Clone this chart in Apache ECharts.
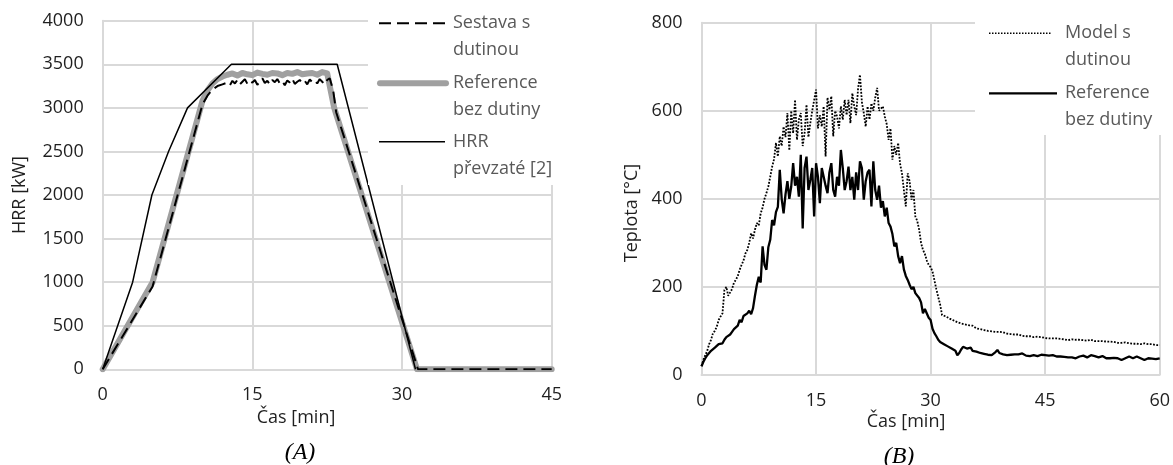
<!DOCTYPE html>
<html>
<head>
<meta charset="utf-8">
<script src="https://cdn.jsdelivr.net/npm/echarts@6/dist/echarts.min.js"></script>
<style>
  html, body { margin: 0; padding: 0; background: #ffffff; }
  #chart { width: 1173px; height: 465px; }
</style>
</head>
<body>
<div id="chart"></div>
<script>
// ---------- Chart (A): HRR ----------
const ticksA_x = [0, 15, 30, 45];
const ticksA_y = [0, 500, 1000, 1500, 2000, 2500, 3000, 3500, 4000];

// HRR převzaté [2]
const timeA_taken = [0, 3, 4.93, 6.6, 8.5, 12.9, 23.5, 31.35];
const hrrTaken    = [0, 1000, 2000, 2500, 3000, 3500, 3500, 0];

// Reference bez dutiny
const timeA_ref = [0, 5, 10, 10.5, 11, 11.5, 12,
  12.5, 13, 13.5, 14, 14.5, 15, 15.5, 16, 16.5, 17, 17.5, 18, 18.5, 19, 19.5, 20, 20.5, 21, 21.5, 22, 22.5,
  23.2, 31.5, 45];
const hrrRefNoCavity = [0, 1000, 3080, 3200, 3280, 3330, 3360,
  3380, 3395, 3370, 3400, 3385, 3375, 3405, 3390, 3380, 3400, 3395, 3375, 3400, 3390, 3410, 3385, 3395, 3400, 3380, 3410, 3395,
  3000, 0, 0];

// Sestava s dutinou
const timeA_cav = [0, 5, 10, 10.5, 11, 11.5, 12,
  12.5, 12.75, 13, 13.25, 13.5, 13.75, 14, 14.25, 14.5, 14.75, 15, 15.25, 15.5, 15.75, 16, 16.25, 16.5, 16.75,
  17, 17.25, 17.5, 17.75, 18, 18.25, 18.5, 18.75, 19, 19.25, 19.5, 19.75, 20, 20.25, 20.5, 20.75, 21, 21.25,
  21.5, 21.75, 22, 22.25, 22.5, 22.75,
  23.1, 23.4, 31.6, 45];
const hrrCavity = [0, 950, 3040, 3140, 3210, 3250, 3270,
  3290, 3260, 3310, 3280, 3320, 3270, 3300, 3330, 3275, 3310, 3290, 3320, 3265, 3300, 3340, 3285, 3310, 3270,
  3320, 3295, 3330, 3280, 3305, 3260, 3315, 3290, 3335, 3275, 3300, 3320, 3285, 3310, 3270, 3325, 3295, 3315,
  3280, 3330, 3300, 3270, 3320, 3340,
  3200, 2950, 0, 0];

// ---------- Chart (B): Teplota ----------
const ticksB_x = [0, 15, 30, 45, 60];
const ticksB_y = [0, 200, 400, 600, 800];
const stepB = 0.25; // minutes between samples

const modelCavity = [
  20,35,45,55, 70,80,95,100,
  110,125,133,140, 193,200,180,178,
  195,210,216,225, 239,250,260,276,
  284,300,322,310, 330,345,340,367,
  380,400,413,428, 450,473,490,527,
  496,542,520,564, 540,595,510,600,
  549,625,534,580, 595,520,549,614,
  540,572,600,602, 648,560,590,564,
  610,496,630,602, 633,542,600,587,
  560,610,580,625, 590,625,572,640,
  610,590,650,682, 620,595,564,610,
  580,617,600,630, 652,600,602,610,
  587,570,534,560, 489,520,500,527,
  480,458,420,383, 458,440,398,420,
  360,350,330,300, 284,275,260,250,
  245,235,215,195, 177,160,136,134,
  133,130,128,125, 124,122,120,118,
  117,118,115,114, 113,110,112,108,
  106,107,104,103, 102,104,100,101,
  99,100,98,99, 98,96,97,95,
  94,95,93,92, 92,91,92,90,
  89,90,88,87, 88,87,86,87,
  87,85,86,84, 84,85,83,84,
  83,82,83,81, 82,80,81,80,
  79,80,81,80, 80,79,80,78,
  79,80,78,79, 80,78,77,78,
  77,76,77,75, 76,75,76,74,
  75,74,73,75, 73,72,74,72,
  72,73,71,72, 71,72,70,71,
  72,71,70,69, 70,69,68,69,
  68
];

const refNoCavity = [
  20,30,38,45, 50,55,58,62,
  66,70,74,72, 80,86,84,92,
  98,104,100,112, 125,120,134,130,
  140,146,138,152, 180,205,223,210,
  292,250,239,290, 307,352,340,370,
  382,466,400,367, 410,440,400,428,
  481,430,450,405, 500,333,470,496,
  420,443,470,360, 481,450,390,470,
  473,430,413,460, 481,420,405,450,
  430,511,470,420, 440,473,420,450,
  398,460,420,485, 470,398,440,460,
  466,383,485,420, 398,430,380,395,
  360,380,345,337, 320,292,300,270,
  254,270,240,225, 216,205,195,200,
  186,190,175,165, 140,150,148,130,
  125,105,95,88, 80,75,72,70,
  68,65,62,60, 61,55,45,50,
  58,64,62,60, 58,62,55,54,
  53,55,50,52, 48,50,46,47,
  45,48,52,57, 50,48,47,43,
  45,48,46,44, 47,49,47,44,
  49,46,44,45, 43,46,45,42,
  43,45,46,44, 45,47,44,42,
  45,43,42,44, 42,40,41,43,
  40,38,40,42, 38,40,42,45,
  44,42,40,43, 45,46,43,42,
  40,41,43,40, 38,40,38,37,
  39,41,38,36, 34,36,38,41,
  42,40,38,36, 42,40,38,37,
  34,36,38,36, 37,39,36,38,
  38
];

// ---------- helpers ----------
const zip = (ts, vs) => ts.map((t, i) => [t, vs[i]]);
const seqB = vs => vs.map((v, i) => [i * stepB, v]);

const FONT = '"Open Sans", "Noto Sans", sans-serif';
const GRID_C = '#d9d9d9';
const LABEL_C = '#1f1f1f';
const LEG_C = '#595959';

function valueAxis(gridIndex, ticks, margin) {
  const step = ticks[1] - ticks[0];
  return {
    type: 'value',
    gridIndex: gridIndex,
    min: ticks[0],
    max: ticks[ticks.length - 1],
    interval: step,
    axisLine: { show: true, lineStyle: { color: GRID_C, width: 2 } },
    axisTick: { show: false },
    splitLine: { show: true, lineStyle: { color: GRID_C, width: 2 } },
    axisLabel: { color: LABEL_C, fontSize: 18, fontFamily: FONT, margin: margin,
                 formatter: v => String(v) }
  };
}

const chart = echarts.init(document.getElementById('chart'), null, { renderer: 'canvas' });

const legendText = (x, y, text) => ({
  type: 'text', x: x, y: y, z: 20,
  style: { text: text, fill: LEG_C, fontSize: 18, fontFamily: FONT, lineHeight: 27,
           align: 'left', verticalAlign: 'top' }
});
const legendLine = (x1, x2, y, style) => ({
  type: 'line', z: 20,
  shape: { x1: x1, y1: y, x2: x2, y2: y },
  style: style
});
const title = (x, y, text, rot) => ({
  type: 'text', x: x, y: y, z: 20, rotation: rot || 0,
  style: { text: text, fill: LABEL_C, fontSize: 18, fontFamily: FONT, align: 'center', verticalAlign: 'middle' }
});
const caption = (x, y, text) => ({
  type: 'text', x: x, y: y, z: 20,
  style: { text: text, fill: '#000', fontSize: 24, fontStyle: 'italic',
           fontFamily: '"Liberation Serif", "DejaVu Serif", serif', align: 'center', verticalAlign: 'middle' }
});

chart.setOption({
  animation: false,
  backgroundColor: '#ffffff',
  grid: [
    { left: 102.7, top: 20.7, width: 449, height: 348.6, containLabel: false },
    { left: 701.5, top: 22.7, width: 458.8, height: 352.3, containLabel: false }
  ],
  xAxis: [ valueAxis(0, ticksA_x, 17), valueAxis(1, ticksB_x, 17) ],
  yAxis: [ valueAxis(0, ticksA_y, 19), valueAxis(1, ticksB_y, 19) ],
  series: [
    {
      name: 'Reference bez dutiny', type: 'line', xAxisIndex: 0, yAxisIndex: 0,
      data: zip(timeA_ref, hrrRefNoCavity), showSymbol: false, symbol: 'none',
      lineStyle: { color: '#a0a0a0', width: 6, cap: 'round', join: 'round' }, z: 2
    },
    {
      name: 'Sestava s dutinou', type: 'line', xAxisIndex: 0, yAxisIndex: 0,
      data: zip(timeA_cav, hrrCavity), showSymbol: false, symbol: 'none',
      lineStyle: { color: '#000000', width: 2, type: [12, 6] }, z: 3
    },
    {
      name: 'HRR převzaté [2]', type: 'line', xAxisIndex: 0, yAxisIndex: 0,
      data: zip(timeA_taken, hrrTaken), showSymbol: false, symbol: 'none',
      lineStyle: { color: '#000000', width: 1.5 }, z: 4
    },
    {
      name: 'Model s dutinou', type: 'line', xAxisIndex: 1, yAxisIndex: 1,
      data: seqB(modelCavity), showSymbol: false, symbol: 'none',
      lineStyle: { color: '#000000', width: 1.8, type: [1.8, 1.5] }, z: 3
    },
    {
      name: 'Reference bez dutiny (B)', type: 'line', xAxisIndex: 1, yAxisIndex: 1,
      data: seqB(refNoCavity), showSymbol: false, symbol: 'none',
      lineStyle: { color: '#000000', width: 2.3 }, z: 4
    }
  ],
  graphic: [
    // legend (A)
    { type: 'rect', z: 15, shape: { x: 368, y: 0, width: 205, height: 185 }, style: { fill: '#ffffff' } },
    legendLine(379, 446, 23.3, { stroke: '#000', lineWidth: 2, lineDash: [12, 6] }),
    legendText(453, 9.5, 'Sestava s\ndutinou'),
    legendLine(380, 446, 83.3, { stroke: '#a0a0a0', lineWidth: 6, lineCap: 'round' }),
    legendText(453, 69.5, 'Reference\nbez dutiny'),
    legendLine(379, 445, 141.7, { stroke: '#000', lineWidth: 1.5 }),
    legendText(453, 128, 'HRR\npřevzaté [2]'),
    // legend (B)
    { type: 'rect', z: 15, shape: { x: 975, y: 0, width: 198, height: 135 }, style: { fill: '#ffffff' } },
    legendLine(989, 1052, 33.3, { stroke: '#000', lineWidth: 1.5, lineDash: [1.5, 1.5] }),
    legendText(1065, 19.5, 'Model s\ndutinou'),
    legendLine(989, 1057, 93.3, { stroke: '#000', lineWidth: 2.3 }),
    legendText(1065, 79.5, 'Reference\nbez dutiny'),
    // axis titles
    title(20, 195, 'HRR [kW]', Math.PI / 2),
    title(296, 418, 'Čas [min]'),
    title(632, 213, 'Teplota [°C]', Math.PI / 2),
    title(906, 422, 'Čas [min]'),
    caption(300, 453, '(A)'),
    caption(899, 457, '(B)')
  ]
});
</script>
</body>
</html>
